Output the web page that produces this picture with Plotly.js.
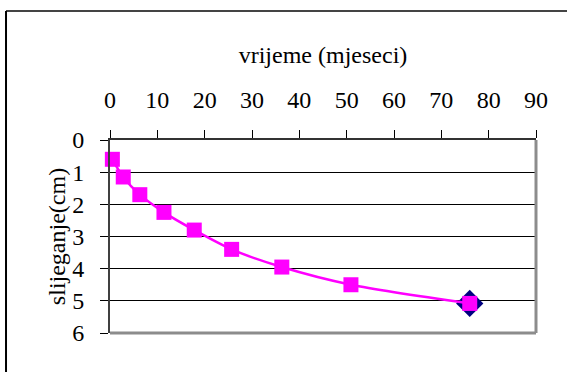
<!DOCTYPE html>
<html>
<head>
<meta charset="utf-8">
<script src="https://cdn.plot.ly/plotly-3.0.1.min.js"></script>
<style>
html,body{margin:0;padding:0;background:#fff;}
#chart{width:567px;height:372px;}
</style>
</head>
<body>
<div id="chart"></div>
<script>
// Data
var months = [0.5, 2.8, 6.3, 11.4, 17.8, 25.7, 36.3, 50.9, 76];
var settlement = [0.6, 1.15, 1.7, 2.25, 2.8, 3.4, 3.95, 4.5, 5.08];
var xTickVals = [0, 10, 20, 30, 40, 50, 60, 70, 80, 90];
var yTickVals = [0, 1, 2, 3, 4, 5, 6];
var xTitle = 'vrijeme (mjeseci)';
var yTitle = 'slijeganje(cm)';

var font = 'Liberation Serif';
var lastIdx = months.length - 1;

var traces = [
  {
    x: [months[lastIdx]],
    y: [settlement[lastIdx]],
    type: 'scatter',
    mode: 'markers',
    marker: {symbol: 'diamond', size: 21, color: '#000080'},
    cliponaxis: false,
    hoverinfo: 'skip'
  },
  {
    x: months,
    y: settlement,
    type: 'scatter',
    mode: 'lines+markers',
    line: {color: '#FF00FF', width: 2.5, shape: 'spline', smoothing: 0.8},
    marker: {symbol: 'square', size: 15, color: '#FF00FF'},
    cliponaxis: false
  }
];

var layout = {
  width: 567,
  height: 372,
  margin: {l: 110, r: 31, t: 140, b: 39},
  paper_bgcolor: '#fff',
  plot_bgcolor: '#fff',
  showlegend: false,
  font: {family: font, size: 24, color: '#000'},
  xaxis: {
    side: 'top',
    range: [0, 90],
    tickvals: xTickVals,
    ticks: 'outside',
    ticklen: 8,
    tickcolor: '#000',
    tickwidth: 1,
    showline: true,
    linecolor: '#333',
    linewidth: 2,
    showgrid: false,
    zeroline: false,
    tickfont: {family: font, size: 24, color: '#000'},
    ticklabelstandoff: 12,
    title: {text: xTitle, font: {family: font, size: 24, color: '#000'}, standoff: 17}
  },
  yaxis: {
    range: [6, 0],
    tickvals: yTickVals,
    ticks: 'outside',
    ticklen: 8,
    tickcolor: '#000',
    tickwidth: 1,
    showline: true,
    linecolor: '#404040',
    linewidth: 2,
    showgrid: true,
    gridcolor: '#000',
    gridwidth: 1,
    zeroline: false,
    tickfont: {family: font, size: 24, color: '#000'},
    ticklabelstandoff: 11,
    title: {text: yTitle, font: {family: font, size: 24, color: '#000'}, standoff: 0}
  },
  shapes: [
    {type: 'line', xref: 'paper', yref: 'paper', x0: 1, x1: 1, y0: 0, y1: 1,
     line: {color: '#8c8c8c', width: 3}},
    {type: 'line', xref: 'paper', yref: 'paper', x0: 0, x1: 1, y0: 0, y1: 0,
     line: {color: '#8c8c8c', width: 3}},
    {type: 'line', xref: 'paper', yref: 'paper', x0: -0.2441, x1: 1.2, y0: 1.668, y1: 1.668,
     line: {color: '#444', width: 2}},
    {type: 'line', xref: 'paper', yref: 'paper', x0: -0.2441, x1: -0.2441, y0: 1.668, y1: -0.4,
     line: {color: '#000', width: 2}}
  ]
};

Plotly.newPlot('chart', traces, layout, {displayModeBar: false, staticPlot: true});
</script>
</body>
</html>
